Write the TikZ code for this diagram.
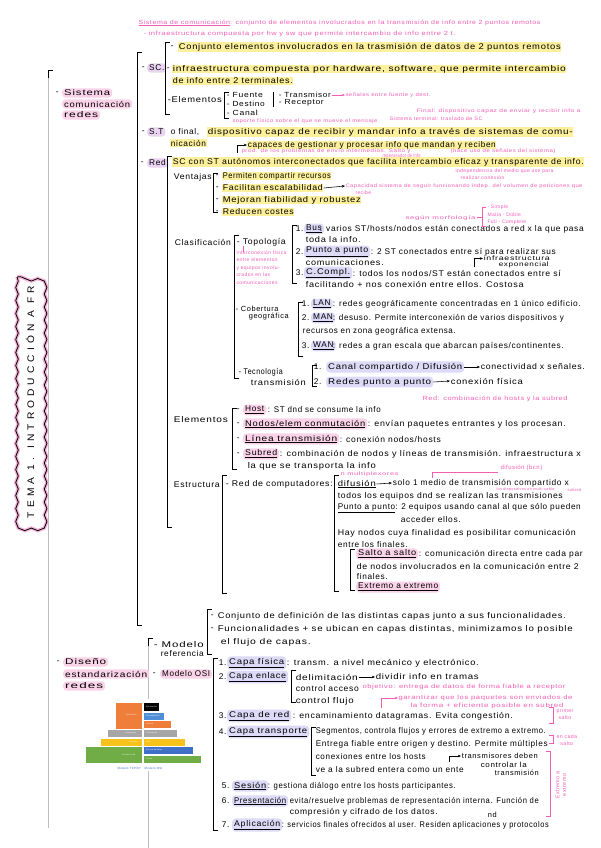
\documentclass[tikz,border=0pt]{standalone}
\usepackage{fontspec}
\setmainfont{Liberation Sans}[LetterSpace=8]
\usepackage{graphicx}
\usetikzlibrary{arrows.meta,decorations.pathmorphing}
\definecolor{hly}{HTML}{FDF09C}
\definecolor{pkt}{HTML}{F35DB6}
\definecolor{pkb}{HTML}{FAD3E9}
\definecolor{pkl}{HTML}{EBD3F2}
\definecolor{pkh}{HTML}{F6B3D8}
\definecolor{lvb}{HTML}{DCDAF7}
\definecolor{gln}{HTML}{BDBDBD}
\definecolor{lor}{HTML}{EE7E3A}
\definecolor{lbl}{HTML}{4F8FD6}
\definecolor{lgr}{HTML}{A6A6A6}
\definecolor{lye}{HTML}{F7C31A}
\definecolor{lgn}{HTML}{70AD47}
\definecolor{lbd}{HTML}{3F6FC6}
\newcommand\fw[2]{\resizebox{#1pt}{\height}{#2}}
\newcommand\fm{\fontsize{8.3}{10}\selectfont}
\newcommand\fp{\fontsize{5}{6}\selectfont}
\newcommand\fpt{\fontsize{6}{7}\selectfont}
\newcommand\fsm{\fontsize{7.4}{8.5}\selectfont}
\begin{document}
\begin{tikzpicture}[x=1pt,y=-1pt,
  tx/.style={anchor=west,inner sep=0.6pt,font=\fm},
  tsm/.style={tx,font=\fsm},
  hil/.style={tx,fill=hly},
  blobp/.style={tx,fill=pkb,rounded corners=3.5pt,inner xsep=2pt,inner ysep=1.6pt},
  blobm/.style={blobp,fill=pkl},
  blobl/.style={tx,fill=lvb,rounded corners=3.5pt,inner xsep=2pt,inner ysep=1.6pt},
  pnk/.style={anchor=west,inner sep=0.3pt,font=\fp,text=pkt,align=left},
  brk/.style={draw,line width=0.65pt},
  arr/.style={-{Stealth[length=3.2pt,width=2.6pt]},line width=0.55pt},
  parr/.style={arr,draw=pkt},
  layr/.style={inner sep=0pt,anchor=north west,font=\fontsize{2}{2}\selectfont,text=white}]
\useasboundingbox (0,0) rectangle (600,848);
\fill[white] (0,0) rectangle (600,848);

% ---------- top pink notes
\node[pnk,font=\fpt] (p0) at (138,23) {\fw{402}{\underline{Sistema de comunicación}: conjunto de elementos involucrados en la transmisión de info entre 2 puntos remotos}};
\node[pnk,font=\fpt] (p1) at (143,34) {\fw{312}{- infraestructura compuesta por hw y sw que permite intercambio de info entre 2 t.}};

% ---------- left rails
\draw[gln,line width=0.8pt] (48,76) -- (48,828);
\draw[brk] (53,70) -- (48,70) -- (48,78);
\draw[gln,line width=0.8pt] (148,644) -- (148,848);
\draw[brk] (153,638) -- (148,638) -- (148,646);

% ---------- title cloud
\draw[pkh,line width=3.5pt,decorate,decoration={snake,amplitude=1.3pt,segment length=13pt}] (17,277) rectangle (43,525);
\draw[black,line width=0.8pt,decorate,decoration={snake,amplitude=1.3pt,segment length=13pt}] (17,277) rectangle (43,525);
\node[rotate=90,font=\fontsize{9.5}{10}\selectfont\addfontfeature{LetterSpace=40},inner sep=0pt] (title) at (30,402) {\fw{232}{TEMA 1. INTRODUCCIÓN A FR}};

% ---------- Sistema comunicacion redes
\node[tx] (d0) at (55,93) {-};
\node[blobp] (s1) at (62,93) {\fw{46}{Sistema}};
\node[blobp] (s2) at (62,104) {\fw{66}{comunicación}};
\node[blobp] (s3) at (62,115) {\fw{34}{redes}};
\draw[brk] (142,52) -- (137,52) -- (137,625) -- (142,625);

% ---------- SC
\node[tx] (d1) at (141,68) {-};
\node[blobm] (sc) at (147,68) {SC.};
\draw[brk] (170,42) -- (165,42) -- (165,114) -- (170,114);
\node[tx] (d2) at (170,47) {-};
\node[hil] (sc1) at (178,47) {\fw{382}{Conjunto elementos involucrados en la trasmisión de datos de 2 puntos remotos}};
\node[tx] (d3) at (166,69) {-};
\node[hil] (sc2) at (172,69) {\fw{393}{infraestructura compuesta por hardware, software, que permite intercambio}};
\node[hil] (sc3) at (172,81) {\fw{120}{de info entre 2 terminales.}};
\node[tx] (el) at (167,100) {\fw{54}{-Elementos}};
\draw[brk] (229,92) -- (224,92) -- (224,118) -- (229,118);
\node[tsm] (f1) at (226,95) {\fw{36}{- Fuente}};
\node[tsm] (f2) at (226,104) {\fw{38}{- Destino}};
\node[tsm] (f3) at (226,113) {\fw{31}{- Canal}};
\draw[brk] (273,92) -- (273,107);
\node[tsm] (f4) at (278,95) {\fw{52}{- Transmisor}};
\node[tsm] (f5) at (278,103) {\fw{45}{- Receptor}};
\node[pnk] (p2) at (345,95) {\fw{85}{señales entre fuente y dest.}};
\draw[parr] (f4.east) -- (p2.west);
\node[pnk] (p3) at (232,121) {\fw{145}{soporte físico sobre el que se mueve el mensaje}};
\node[pnk] (p4) at (389,119) {\fw{93}{Sistema terminal: traslado de SC}};
\node[pnk] (p5) at (416,111) {\fw{164}{Final: dispositivo capaz de enviar y recibir info a}};

% ---------- S.T
\node[tx] (d4) at (141,132) {-};
\node[blobm] (st) at (147,132) {S.T};
\node[tx] (st0) at (170,132) {o final,};
\node[hil] (st1) at (207,132) {\fw{365}{dispositivo capaz de recibir y mandar info a través de sistemas de comu-}};
\node[hil] (st2) at (170,143) {nicación};
\node[hil] (st3) at (247,145) {\fw{248}{capaces de gestionar y procesar info que mandan y reciben}};
\coordinate (st3a) at (237,153);
\draw[arr] (st3a) |- (st3.west);
\node[pnk] (p6) at (241,151) {\fw{169}{prod. de los problemas de envío intermedios. Salto y}};
\node[pnk] (p7) at (382,156) {\fw{38}{regenerador de info}};
\node[pnk] (p8) at (450,151) {\fw{105}{(hace uso de señales del sistema)}};

% ---------- Red
\node[tx] (d5) at (140,163) {-};
\node[blobm] (rd) at (147,163) {Red};
\node[hil] (rd1) at (172,162) {\fw{411}{SC con ST autónomos interconectados que facilita intercambio eficaz y transparente de info.}};
\node[pnk] (p9) at (455,171) {\fw{98}{independencia del medio que use para}};
\node[pnk] (p10) at (460,178) {realizar conexión};
\draw[brk] (172,156) -- (167,156) -- (167,527) -- (172,527);

% Ventajas
\node[tx] (v0) at (173,177) {\fw{38}{Ventajas}};
\draw[brk] (218,173) -- (213,173) -- (213,212) -- (218,212);
\node[tx] (vd1) at (215,176) {-};
\node[tx] (vd2) at (215,188) {-};
\node[tx] (vd3) at (215,200) {-};
\node[tx] (vd4) at (215,212) {-};
\node[hil] (v1) at (222,176) {\fw{108}{Permiten compartir recursos}};
\node[hil] (v2) at (222,188) {\fw{100}{Facilitan escalabilidad}};
\node[hil] (v3) at (222,200) {\fw{138}{Mejoran fiabilidad y robustez}};
\node[hil] (v4) at (222,212) {\fw{71}{Reducen costes}};
\node[pnk] (p11) at (345,186) {\fw{237}{Capacidad sistema de seguir funcionando indep. del volumen de peticiones que}};
\node[pnk] (p12) at (355,193) {recibe};
\draw[arr] (v2.east) -- (p11.west);

% Clasificacion
\node[tx] (c0) at (174,242) {\fw{56}{Clasificación}};
\draw[brk] (239,235) -- (234,235) -- (234,378) -- (239,378);
\node[tx] (t0) at (236,242) {\fw{49}{- Topología}};
\draw[pkt,line width=0.5pt] (243,246) -- (243,252);
\node[pnk,font=\fontsize{5}{7.6}\selectfont,anchor=north west] (p13) at (236,250) {interconexión física\\entre elementos\\y equipos involu-\\crados en las\\comunicaciones};
\draw[brk] (297,225) -- (292,225) -- (292,283) -- (297,283);
\node[tx] (b1) at (295,229) {1.};
\node[blobl] (b2) at (304,229) {\underline{Bus}};
\node[tx] (b3) at (319,229) {\fw{264}{: varios ST/hosts/nodos están conectados a red x la que pasa}};
\node[tx] (b4) at (305,240) {\fw{55}{toda la info.}};
\node[tx] (b5) at (295,252) {2.};
\node[blobl] (b6) at (304,252) {\fw{62}{\underline{Punto a punto}}};
\node[tx] (b7) at (370,252) {\fw{185}{: 2 ST conectados entre sí para realizar sus}};
\node[tx] (b8) at (305,263) {\fw{78}{comunicaciones.}};
\node[tx] (b9) at (295,273) {3.};
\node[blobl] (b10) at (304,273) {\fw{44}{\underline{C.Compl.}}};
\node[tx] (b11) at (352,273) {\fw{208}{: todos los nodos/ST están conectados entre sí}};
\node[tx] (b12) at (305,284) {\fw{218}{facilitando + nos conexión entre ellos. Costosa}};
\node[tx,font=\fontsize{6.4}{7}\selectfont] (b13) at (483,258.5) {\fw{66}{infraestructura}};
\node[tx,font=\fontsize{6.4}{7}\selectfont] (b14) at (498,265) {\fw{50}{exponencial}};
\coordinate (b15) at (474,267);
\draw[arr] (b15) |- (b13.west);
\node[pnk] (m0) at (405,218) {\fw{70}{según morfología}};
\draw[pkt,line width=0.5pt] (486,207) -- (482,207) -- (482,226) -- (486,226);
\draw[pkt,line width=0.5pt] (477,217) -- (482,217);
\node[pnk] (m1) at (487,207) {- Simple};
\node[pnk] (m2) at (487,215) {Malla - Doble};
\node[pnk] (m3) at (487,222) {Full - Complete};

% Cobertura
\node[tsm] (g0) at (235,309) {- Cobertura};
\node[tsm] (g1) at (248,317) {geográfica};
\draw[brk] (303,302) -- (298,302) -- (298,356) -- (303,356);
\node[tx] (g2) at (301,304) {1.};
\node[blobl] (g3) at (311,304) {\underline{LAN}};
\node[tx] (g4) at (332,304) {\fw{248}{: redes geográficamente concentradas en 1 único edificio.}};
\node[tx] (g5) at (301,318) {2.};
\node[blobl] (g6) at (311,318) {\underline{MAN}};
\node[tx] (g7) at (332,318) {\fw{231}{: desuso. Permite interconexión de varios dispositivos y}};
\node[tx] (g8) at (302,331) {\fw{153}{recursos en zona geográfica extensa.}};
\node[tx] (g9) at (301,346) {3.};
\node[blobl] (g10) at (311,346) {\underline{WAN}};
\node[tx] (g11) at (332,346) {\fw{231}{: redes a gran escala que abarcan países/continentes.}};

% Tecnologia
\node[tx] (k0) at (238,372) {\fw{44}{- Tecnología}};
\node[tx] (k1) at (250,382) {\fw{55}{transmisión}};
\draw[brk] (317,365) -- (312,365) -- (312,386) -- (317,386);
\node[tx] (k2) at (313,367) {1.};
\node[blobl] (k3) at (326,367) {\fw{134}{Canal compartido / Difusión}};
\node[tx] (k4) at (480,367) {\fw{104}{conectividad x señales.}};
\draw[arr] (k3.east) -- (k4.west);
\node[tx] (k5) at (313,382) {2.};
\node[blobl] (k6) at (326,382) {\fw{103}{Redes punto a punto}};
\node[tx] (k7) at (450,381) {\fw{72}{conexión física}};
\draw[arr] (k6.east) -- (k7.west);
\node[pnk,font=\fpt] (p14) at (422,399) {\fw{145}{Red: combinación de hosts y la subred}};

% Elementos
\node[tx] (e0) at (173,420) {\fw{54}{Elementos}};
\draw[brk] (237,408) -- (232,408) -- (232,469) -- (237,469);
\node[tx] (ed1) at (236,410) {-};
\node[blobp] (e1) at (243,410) {\underline{Host}};
\node[tx] (e1b) at (267,410) {\fw{113}{: ST dnd se consume la info}};
\node[tx] (ed2) at (236,424) {-};
\node[blobp] (e2) at (243,424) {\fw{120}{\underline{Nodos/elem conmutación}}};
\node[tx] (e2b) at (367,424) {\fw{198}{: envían paquetes entrantes y los procesan.}};
\node[tx] (ed3) at (236,439) {-};
\node[blobp] (e3) at (243,439) {\fw{92}{\underline{Línea transmisión}}};
\node[tx] (e3b) at (339,439) {\fw{101}{: conexión nodos/hosts}};
\node[tx] (ed4) at (236,454) {-};
\node[blobp] (e4) at (243,454) {\fw{32}{\underline{Subred}}};
\node[tx] (e4b) at (279,454) {\fw{301}{: combinación de nodos y líneas de transmisión. infraestructura x}};
\node[tx] (e5) at (247,466) {\fw{128}{la que se transporta la info}};

% Estructura
\node[tx] (r0) at (173,485) {\fw{46}{Estructura}};
\draw[brk] (227,475) -- (222,475) -- (222,593) -- (227,593);
\node[tx] (r1) at (225,484) {\fw{107}{- Red de computadores:}};
\draw[brk] (339,475) -- (334,475) -- (334,591) -- (339,591);
\node[tx] (r2) at (337,484) {\fw{38}{\underline{difusión}}};
\node[tx] (r3) at (392,483) {\fw{176}{solo 1 medio de transmisión compartido x}};
\draw[arr] (r2.east) -- (r3.west);
\node[pnk] (p15) at (340,474) {\fw{58}{n multiplexores}};
\draw[pkt,line width=0.5pt] (432,478) -- (432,472) -- (498,472);
\node[pnk,font=\fpt] (p16) at (500,468) {difusión (bcn)};
\node[pnk,font=\fontsize{3.8}{4}\selectfont] (p17) at (496,489.5) {\fw{58}{los dispositivos en multi-cable}};
\node[pnk,font=\fontsize{4}{4}\selectfont] (p18) at (567,490) {subred};
\node[tx] (r4) at (337,496.5) {\fw{225}{todos los equipos dnd se realizan las transmisiones}};
\node[tx] (r5) at (337,508) {\fw{243}{\underline{Punto a punto}: 2 equipos usando canal al que sólo pueden}};
\node[tx] (r6) at (400,520) {\fw{60}{acceder ellos.}};
\node[tx] (r7) at (337,533) {\fw{238}{Hay nodos cuya finalidad es posibilitar comunicación}};
\node[tx] (r8) at (337,545) {\fw{70}{entre los finales.}};
\draw[brk] (355,549) -- (350,549) -- (350,590) -- (355,590);
\node[blobp] (r9) at (356,554) {\fw{58}{\underline{Salto a salto}}};
\node[tx] (r10) at (418,554) {\fw{164}{: comunicación directa entre cada par}};
\node[tx] (r11) at (356,566) {\fw{222}{de nodos involucrados en la comunicación entre 2}};
\node[tx] (r12) at (356,577) {finales.};
\node[blobp] (r13) at (356,587) {\fw{80}{\underline{Extremo a extremo}}};

% ---------- Modelo referencia
\draw[brk] (212,609) -- (207,609) -- (207,654) -- (212,654);
\node[tx] (q0) at (210,616) {-};
\node[tx] (q1) at (217,616) {\fw{348}{Conjunto de definición de las distintas capas junto a sus funcionalidades.}};
\node[tx] (q2) at (210,629) {-};
\node[tx] (q3) at (217,629) {\fw{355}{Funcionalidades + se ubican en capas distintas, minimizamos lo posible}};
\node[tx] (q4) at (220,642) {\fw{90}{el flujo de capas.}};

% ---------- Diseño
\node[tx] (d6) at (56,662) {-};
\node[blobp] (ds1) at (63,662) {\fw{41}{Diseño}};
\node[blobp] (ds2) at (63,674) {\fw{82}{estandarización}};
\node[blobp] (ds3) at (63,686) {\fw{38}{redes}};
\node[tx] (mr1) at (153,645) {\fw{50}{- Modelo}};
\node[tx] (mr2) at (160,654) {\fw{43}{referencia}};
\node[tx] (mo0) at (152,674) {-};
\node[blobp] (mo1) at (160,674) {\fw{48}{Modelo OSI}};

% OSI
\draw[brk] (218,658) -- (213,658) -- (213,830) -- (218,830);
\node[tx] (o1) at (218,663) {1.};
\node[blobl] (o1a) at (227,663) {\fw{55}{\underline{Capa física}}};
\node[tx] (o1b) at (286,663) {\fw{192}{: transm. a nivel mecánico y electrónico.}};
\node[tx] (o2) at (218,677) {2.};
\node[blobl] (o2a) at (227,677) {\fw{57}{\underline{Capa enlace}}};
\draw[brk] (296,670) -- (291,670) -- (291,702) -- (296,702);
\node[tx] (o2b) at (295,677) {\fw{62}{delimitación}};
\node[tx] (o2c) at (375,677) {\fw{103}{dividir info en tramas}};
\draw[arr] (o2b.east) -- (o2c.west);
\node[tx] (o2d) at (295,689) {\fw{63}{control acceso}};
\node[pnk,font=\fpt] (p19) at (362,687) {\fw{203}{objetivo: entrega de datos de forma fiable a receptor}};
\node[tx] (o2e) at (295,701) {\fw{58}{control flujo}};
\node[pnk,font=\fpt] (p20) at (398,698) {\fw{174}{garantizar que los paquetes son enviados de}};
\node[pnk,font=\fpt] (p21) at (410,706) {\fw{153}{la forma + eficiente posible en subred}};
\coordinate (p22) at (381,708);
\draw[parr] (p22) |- (p20.west);
\node[tx] (o3) at (218,716) {3.};
\node[blobl] (o3a) at (227,716) {\fw{60}{\underline{Capa de red}}};
\node[tx] (o3b) at (292,716) {\fw{220}{: encaminamiento datagramas. Evita congestión.}};
\node[tx] (o4) at (218,732) {4.};
\node[blobl] (o4a) at (227,732) {\fw{78}{\underline{Capa transporte}}};
\draw[brk] (316,727) -- (311,727) -- (311,775) -- (316,775);
\node[tx] (o4b) at (315,731) {\fw{230}{Segmentos, controla flujos y errores de extremo a extremo.}};
\node[tx] (o4c) at (315,744) {\fw{232}{Entrega fiable entre origen y destino. Permite múltiples}};
\node[tx] (o4d) at (315,757) {\fw{110}{conexiones entre los hosts}};
\node[tx] (o4e) at (315,770) {\fw{148}{ve a la subred entera como un ente}};
\node[tsm] (o4f) at (461,756) {\fw{76}{transmisores deben}};
\node[tsm] (o4g) at (480,765) {\fw{46}{controlar la}};
\node[tsm] (o4h) at (494,773) {\fw{44}{transmisión}};
\coordinate (o4i) at (449,762);
\draw[arr] (o4i) |- (o4f.west);
\node[tx] (o5) at (221,786) {5.};
\node[blobl] (o5a) at (232,786) {\fw{32}{\underline{Sesión}}};
\node[tx] (o5b) at (267,786) {\fw{188}{: gestiona diálogo entre los hosts participantes.}};
\node[tx] (o6) at (221,801) {6.};
\node[blobl] (o6a) at (232,801) {\fw{52}{\underline{Presentación}}};
\node[tx] (o6b) at (289,801) {\fw{249}{evita/resuelve problemas de representación interna. Función de}};
\node[tx] (o6c) at (289,812) {\fw{148}{compresión y cifrado de los datos.}};
\node[tx] (o7) at (221,825) {7.};
\node[blobl] (o7a) at (232,825) {\fw{46}{\underline{Aplicación}}};
\node[tx] (o7b) at (281,825) {\fw{267}{: servicios finales ofrecidos al user. Residen aplicaciones y protocolos}};
\node[tsm] (o7c) at (487,815) {nd};

% right pink brackets
\draw[pkt,line width=0.5pt] (549,707) -- (553,707) -- (553,723) -- (549,723);
\node[pnk,align=center,font=\fontsize{5.2}{6.6}\selectfont] (q5) at (556,714) {primer\\salto};
\draw[pkt,line width=0.5pt] (549,735) -- (553,735) -- (553,743) -- (549,743);
\node[pnk,align=center,font=\fontsize{5.2}{6.6}\selectfont] (q6) at (556,740) {en cada\\salto};
\draw[pkt,line width=0.5pt] (546,751) -- (550,751) -- (550,816) -- (546,816);
\node[pnk,rotate=90,align=center,anchor=center,font=\fontsize{5.4}{6.8}\selectfont] (q7) at (561,785) {Extremo a\\extremo};

% ---------- pyramid picture
\fill[white] (77,699) rectangle (208,771);
\fill[lor] (116,703) rectangle (142,729);
\fill[black] (144,703) rectangle (159,711);
\fill[lbl] (144,713) rectangle (164,720);
\fill[lor] (144,721) rectangle (171,728);
\fill[lgr] (108,730) rectangle (142,737);
\fill[lgr] (144,730) rectangle (177,737);
\fill[lye] (101,739) rectangle (142,746);
\fill[lye] (144,739) rectangle (185,746);
\fill[lgn] (86,747) rectangle (142,763);
\fill[lbd] (144,747) rectangle (193,754);
\fill[lgn] (144,756) rectangle (201,763);
\node[layr] (y1) at (126,714) {Aplicación};
\node[layr] (y2) at (125,732) {Transporte};
\node[layr] (y3) at (129,741) {Internet};
\node[layr] (y4) at (122,754) {Acceso a red};
\node[layr] (y5) at (146,706) {Aplicación};
\node[layr] (y6) at (146,715) {Presentación};
\node[layr] (y7) at (146,723) {Sesión};
\node[layr] (y8) at (146,732) {Transporte};
\node[layr] (y9) at (146,741) {Red};
\node[layr] (y10) at (146,749) {Enlace de datos};
\node[layr] (y11) at (146,758) {Física};
\node[inner sep=0pt,font=\fontsize{3}{3}\selectfont,text=lbd] (y12) at (140,768) {Modelo TCP/IP \quad Modelo OSI};
\end{tikzpicture}
\end{document}
